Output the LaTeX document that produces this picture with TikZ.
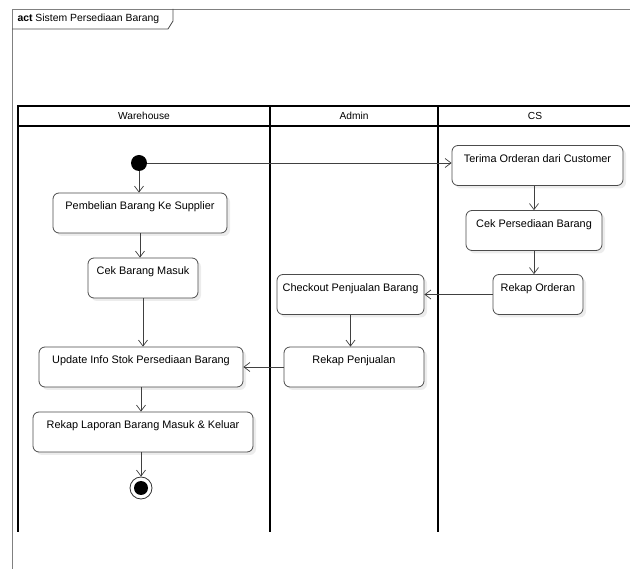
\documentclass[tikz,border=0pt]{standalone}
\usepackage{fontspec}
\setmainfont{Liberation Sans}
\usetikzlibrary{arrows.meta,shadows}
\tikzset{
  action/.style={draw=black!70, fill=white, rounded corners=6pt, line width=0.8pt,
    inner xsep=2pt, inner ysep=3pt, text height=14pt, text depth=20pt, align=center,
    font=\fontsize{10.9}{12}\selectfont,
    drop shadow={opacity=0.15, shadow xshift=3pt, shadow yshift=-3pt}},
  flow/.style={draw=black!75, line width=0.7pt, -{Straight Barb[length=6pt,width=9pt]}},
  lane/.style={line width=1.2pt},
  lanehead/.style={font=\fontsize{10.2}{12}\selectfont},
}
\begin{document}
\begin{tikzpicture}[x=1pt,y=-1pt]
\useasboundingbox (0,0) rectangle (630,569);
% frame
\draw[black!50, line width=0.8pt] (630,9) -- (12,9) -- (12,569);
\draw[black!70, line width=0.8pt] (12,29) -- (168,29) -- (173,21) -- (173,9);
\node[anchor=west, font=\fontsize{10.4}{12}\selectfont] (title) at (14,19) {\textbf{act} Sistem Persediaan Barang};
% lanes
\draw[lane] (630,106) -- (18,106) -- (18,532);
\draw[lane] (18,126) -- (630,126);
\draw[lane] (270,106) -- (270,532);
\draw[lane] (438,106) -- (438,532);
\node[lanehead] (warehouse) at (144,116) {Warehouse};
\node[lanehead] (admin) at (354,116) {Admin};
\node[lanehead] (cs) at (535,116) {CS};
% nodes
\node[circle, fill=black, minimum size=16pt, inner sep=0pt] (start) at (139,163) {};
\node[action, minimum width=174pt] (pembelian) at (140,213) {Pembelian Barang Ke Supplier};
\node[action, minimum width=110pt] (cekmasuk) at (143,278) {Cek Barang Masuk};
\node[action, minimum width=204pt] (update) at (141,367) {Update Info Stok Persediaan Barang};
\node[action, minimum width=220pt] (laporan) at (143,432) {Rekap Laporan Barang Masuk \& Keluar};
\node[circle, draw=black!80, fill=white, line width=0.8pt, minimum size=22pt, inner sep=0pt] (stop) at (141,488) {};
\fill (stop.center) circle (7);
\node[action, minimum width=171pt] (terima) at (537.5,165.5) {Terima Orderan dari Customer};
\node[action, minimum width=136pt] (cekpers) at (534,230.5) {Cek Persediaan Barang};
\node[action, minimum width=90pt] (rekaporder) at (538,294.5) {Rekap Orderan};
\node[action, minimum width=147pt] (checkout) at (350.5,294.5) {Checkout Penjualan Barang};
\node[action, minimum width=140pt] (rekappenj) at (354,367) {Rekap Penjualan};
% flows
\draw[flow] (start) -- (start -| terima.west);
\draw[flow] (start) -- (start |- pembelian.north);
\draw[flow] (pembelian) -- (pembelian |- cekmasuk.north);
\draw[flow] (cekmasuk) -- (cekmasuk |- update.north);
\draw[flow] (update) -- (update |- laporan.north);
\draw[flow] (stop |- laporan.south) -- (stop);
\draw[flow] (cekpers |- terima.south) -- (cekpers.north);
\draw[flow] (cekpers) -- (cekpers |- rekaporder.north);
\draw[flow] (rekaporder) -- (checkout);
\draw[flow] (checkout) -- (checkout |- rekappenj.north);
\draw[flow] (rekappenj) -- (update);
\end{tikzpicture}
\end{document}
